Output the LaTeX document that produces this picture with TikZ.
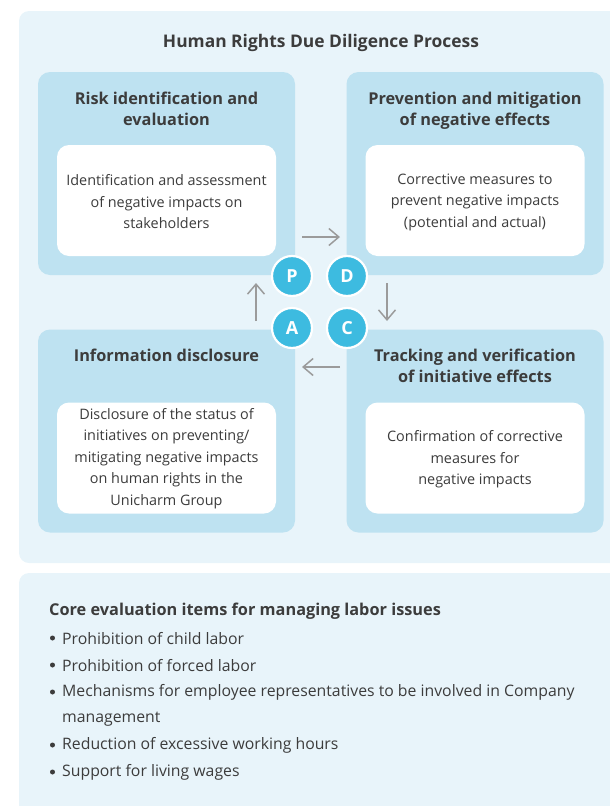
\documentclass[tikz,border=0pt]{standalone}
\usepackage{fontspec}
\setmainfont{Open Sans}
\usetikzlibrary{positioning,arrows.meta}
\definecolor{panel}{HTML}{E8F4FA}
\definecolor{quad}{HTML}{BEE2F1}
\definecolor{pdca}{HTML}{3DBBE0}
\definecolor{ink}{HTML}{3C3C3C}
\definecolor{flowgray}{HTML}{9B9B9B}
\tikzset{
  bg/.style={fill=panel, rounded corners=10pt},
  quadbox/.style={fill=quad, rounded corners=12pt, minimum width=257pt, minimum height=203pt, inner sep=0pt},
  card/.style={fill=white, rounded corners=12pt, minimum width=219pt, minimum height=111pt, inner sep=0pt},
  head/.style={text=ink, inner sep=0pt, align=center, font=\fontsize{16.3}{21}\selectfont\bfseries},
  body/.style={text=ink, inner sep=0pt, align=center, font=\fontsize{14.4}{21.5}\selectfont},
  phase/.style={circle, fill=pdca, draw=white, line width=2.2pt, minimum size=40pt, inner sep=0pt,
    text=white, font=\fontsize{18}{18}\selectfont\bfseries},
  flow/.style={draw=flowgray, line width=1.5pt, -{Straight Barb[length=10pt,width=17pt]}},
  item/.style={text=ink, inner sep=0pt, anchor=west, align=left, font=\fontsize{15.8}{26.5}\selectfont},
  dot/.style={circle, fill=ink, minimum size=5pt, inner sep=0pt},
}

\begin{document}
\begin{tikzpicture}[x=1pt, y=-1pt]
  \useasboundingbox (0,0) rectangle (610,806);
  \clip (0,0) rectangle (610,806);

  % panels
  \fill[bg] (19,11) rectangle (630,563);
  \fill[bg] (19,573) rectangle (630,830);

  \node[head, font=\fontsize{17.4}{21}\selectfont\bfseries] (title) at (321,43) {Human Rights Due Diligence Process};

  % four quadrants
  \node[quadbox] (risk) at (166.5,173.5) {};
  \node[quadbox] (prevent) at (475,173.5) {};
  \node[quadbox] (disclose) at (166.5,431) {};
  \node[quadbox] (track) at (475,431) {};

  \node[card, above=19pt of risk.south, anchor=south] (riskcard) {};
  \node[card, above=19pt of prevent.south, anchor=south] (preventcard) {};
  \node[card, above=19pt of disclose.south, anchor=south] (disclosecard) {};
  \node[card, above=19pt of track.south, anchor=south] (trackcard) {};

  \node[head, below=20pt of risk.north] (riskhead) {Risk identification and\\evaluation};
  \node[head, below=20pt of prevent.north] (preventhead) {Prevention and mitigation\\of negative effects};
  \node[head, below=20pt of disclose.north] (disclosehead) {Information disclosure};
  \node[head, below=20pt of track.north] (trackhead) {Tracking and verification\\of initiative effects};

  \node[body] (riskbody) at ([yshift=-1.5pt]riskcard) {Identification and assessment\\of negative impacts on\\stakeholders};
  \node[body] (preventbody) at ([yshift=-1.5pt]preventcard) {Corrective measures to\\prevent negative impacts\\(potential and actual)};
  \node[body] (disclosebody) at ([yshift=-0.5pt]disclosecard) {Disclosure of the status of\\initiatives on preventing/\\mitigating negative impacts\\on human rights in the\\Unicharm Group};
  \node[body] (trackbody) at ([yshift=-1.5pt]trackcard) {Confirmation of corrective\\measures for\\negative impacts};

  % PDCA cycle
  \node[phase] (P) at (292,276) {P};
  \node[phase] (D) at (347,276) {D};
  \node[phase] (C) at (347,328) {C};
  \node[phase] (A) at (292,328) {A};

  \coordinate (pd0) at (302,237);
  \coordinate (pd1) at (340,237);
  \coordinate (dc0) at (387,283);
  \coordinate (dc1) at (387,321);
  \coordinate (ca0) at (340,367);
  \coordinate (ca1) at (302,367);
  \coordinate (ap0) at (256,321);
  \coordinate (ap1) at (256,283);
  \draw[flow] (pd0) -- (pd1);
  \draw[flow] (dc0) -- (dc1);
  \draw[flow] (ca0) -- (ca1);
  \draw[flow] (ap0) -- (ap1);

  % labor issues list
  \node[head, anchor=west] (core) at (49,611) {Core evaluation items for managing labor issues};
  \node[item] (item1) at (62,638.5) {Prohibition of child labor};
  \node[item] (item2) at (62,665.5) {Prohibition of forced labor};
  \node[item] (item3) at (62,705.5) {Mechanisms for employee representatives to be involved in Company\\management};
  \node[item] (item4) at (62,745.5) {Reduction of excessive working hours};
  \node[item] (item5) at (62,772.5) {Support for living wages};
  \node[dot] (dot1) at (52.5,638) {};
  \node[dot] (dot2) at (52.5,665) {};
  \node[dot] (dot3) at (52.5,692) {};
  \node[dot] (dot4) at (52.5,745) {};
  \node[dot] (dot5) at (52.5,772) {};
\end{tikzpicture}
\end{document}
